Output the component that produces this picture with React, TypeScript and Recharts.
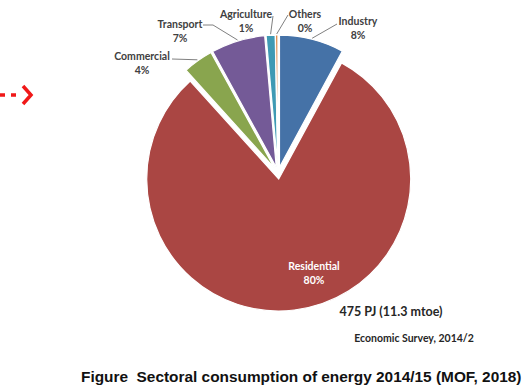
import React from "react";
import { PieChart, Pie, Cell } from "recharts";

// Sectoral shares of energy consumption (%), clockwise from 12 o'clock
const sectors = ["Industry", "Residential", "Commercial", "Transport", "Agriculture", "Others"];
const shares = [7.9, 80.4, 3.7, 6.6, 1.1, 0.3];
const sliceColors = ["#4572A7", "#AA4643", "#89A54E", "#745A97", "#3F9AB4", "#DB843D"];

const totalText = "475 PJ (11.3 mtoe)";
const sourceText = "Economic Survey, 2014/2";
const captionText = "Figure  Sectoral consumption of energy 2014/15 (MOF, 2018)";

const data = sectors.map((name, i) => ({ name, value: shares[i] }));

// Layout
const W = 525;
const H = 389;
const CX = 278;
const CY = 173;
const R = 132;
const EXPLODE = 6;
const START = 90;
const END = -270;
const RADIAN = Math.PI / 180;
const LABEL_FONT = "Lato, 'Open Sans', sans-serif";
const LABEL_COLOR = "#404040";

// Label placement relative to the pie centre: name line centre, and where the leader starts
type LabelPlace = { nx: number; ny: number; ax?: number; ay?: number; bx?: number; by?: number; inside?: boolean };
const labelPlaces: Record<string, LabelPlace> = {
  Industry: { nx: 80, ny: -152, ax: 59, ay: -149 },
  Residential: { nx: 36, ny: 93, inside: true },
  Commercial: { nx: -136, ny: -117, ax: -106, ay: -114 },
  Transport: { nx: -98, ny: -149, ax: -75, ay: -148, bx: -65, by: -148 },
  Agriculture: { nx: -32, ny: -159, ax: -5, ay: -157 },
  Others: { nx: 27, ny: -159, ax: 10, ay: -158 },
};

const total = shares.reduce((a, b) => a + b, 0);

// Mid angle of each slice (Recharts convention, degrees counter-clockwise from +x)
const midAngles = shares.map((v, i) => {
  const before = shares.slice(0, i).reduce((a, b) => a + b, 0);
  return START + ((END - START) * (before + v / 2)) / total;
});

const renderLabel = (props: any) => {
  const { cx, cy, midAngle, outerRadius, percent, name } = props;
  const place = labelPlaces[name];
  if (!place) return null;
  const tx = CX + place.nx;
  const ty = CY + place.ny;
  const pct = `${Math.round(percent * 100)}%`;
  const textFill = place.inside ? "#ffffff" : LABEL_COLOR;
  let leader = null;
  if (!place.inside && place.ax !== undefined && place.ay !== undefined) {
    const ex = cx + (outerRadius + 1) * Math.cos(-midAngle * RADIAN);
    const ey = cy + (outerRadius + 1) * Math.sin(-midAngle * RADIAN);
    const pts: string[] = [`${CX + place.ax},${CY + place.ay}`];
    if (place.bx !== undefined && place.by !== undefined) pts.push(`${CX + place.bx},${CY + place.by}`);
    pts.push(`${ex},${ey}`);
    leader = <polyline points={pts.join(" ")} fill="none" stroke="#808080" strokeWidth={1} />;
  }
  return (
    <g>
      {leader}
      <text x={tx} y={ty + 3.7} textAnchor="middle" fontFamily={LABEL_FONT} fontWeight={700} fontSize={10.5} fill={textFill}>
        {name}
      </text>
      <text x={tx} y={ty + 17.7} textAnchor="middle" fontFamily={LABEL_FONT} fontWeight={700} fontSize={10.5} fill={textFill}>
        {pct}
      </text>
    </g>
  );
};

export default function App() {
  return (
    <div style={{ position: "absolute", left: 0, top: 0, width: W, height: H, background: "#ffffff", overflow: "hidden" }}>
      <PieChart width={W} height={H} margin={{ top: 0, right: 0, bottom: 0, left: 0 }}>
        {sectors.map((sector, i) => {
          // each slice is pulled out along its own mid angle
          const ox = EXPLODE * Math.cos(midAngles[i] * RADIAN);
          const oy = -EXPLODE * Math.sin(midAngles[i] * RADIAN);
          return (
            <Pie
              key={sector}
              data={data}
              dataKey="value"
              nameKey="name"
              cx={CX + ox}
              cy={CY + oy}
              outerRadius={R}
              startAngle={START}
              endAngle={END}
              isAnimationActive={false}
              labelLine={false}
              label={(p: any) => (p.index === i ? renderLabel(p) : null)}
            >
              {data.map((d, j) => (
                <Cell
                  key={d.name}
                  fill={j === i ? sliceColors[j] : "none"}
                  stroke={j === i ? "#ffffff" : "none"}
                  strokeWidth={1.2}
                />
              ))}
            </Pie>
          );
        })}
      </PieChart>
      <svg width={W} height={H} style={{ position: "absolute", left: 0, top: 0, pointerEvents: "none" }}>
        {/* red dashed pointer on the left */}
        <line x1={0} y1={95} x2={22} y2={95} stroke="#f01818" strokeWidth={3.5} strokeDasharray="5 6" />
        <polyline points="23,86 31,95 23,104" fill="none" stroke="#f01818" strokeWidth={3.5} strokeLinejoin="miter" />
        <text x={391} y={316} textAnchor="middle" fontFamily={LABEL_FONT} fontWeight={700} fontSize={12.5} fill="#262626">
          {totalText}
        </text>
        <text x={414} y={341.5} textAnchor="middle" fontFamily={LABEL_FONT} fontWeight={700} fontSize={10.5} fill="#262626">
          {sourceText}
        </text>
        <text x={81} y={381.5} fontFamily="'Liberation Sans', Arial, sans-serif" fontWeight={700} fontSize={15.4} fill="#111111" style={{ whiteSpace: "pre" }}>
          {captionText}
        </text>
      </svg>
    </div>
  );
}
